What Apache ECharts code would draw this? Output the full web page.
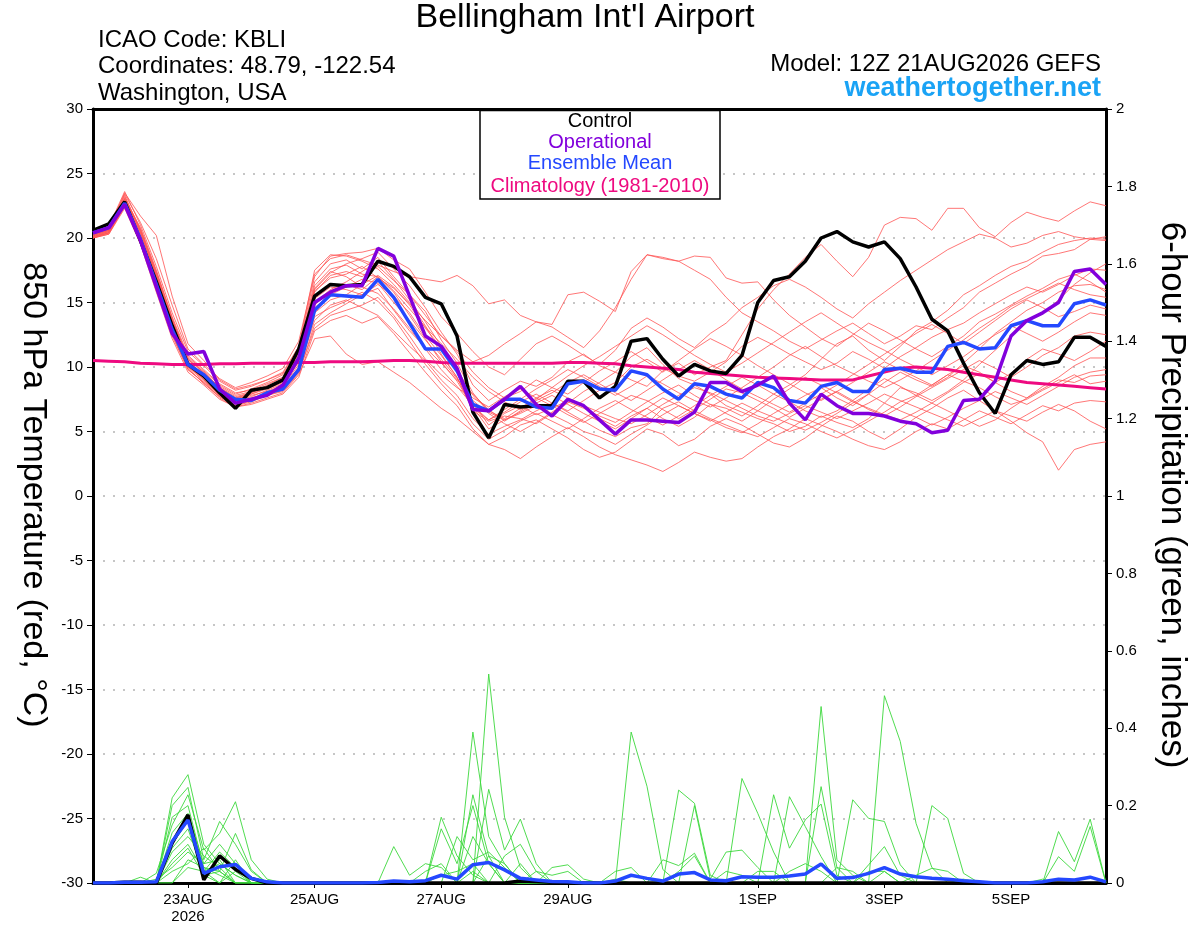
<!DOCTYPE html>
<html><head><meta charset="utf-8">
<script src="https://cdn.jsdelivr.net/npm/echarts@6/dist/echarts.min.js"></script>
<style>html,body{margin:0;padding:0;background:#fff}#c{width:1200px;height:927px}</style>
</head><body><div id="c"></div>
<script>
const FONT = '"Liberation Sans", Arial, Helvetica, sans-serif';

const times = ['21AUG 12Z','21AUG 18Z',
'22AUG 00Z','22AUG 06Z','22AUG 12Z','22AUG 18Z','23AUG 00Z','23AUG 06Z','23AUG 12Z','23AUG 18Z',
'24AUG 00Z','24AUG 06Z','24AUG 12Z','24AUG 18Z','25AUG 00Z','25AUG 06Z','25AUG 12Z','25AUG 18Z',
'26AUG 00Z','26AUG 06Z','26AUG 12Z','26AUG 18Z','27AUG 00Z','27AUG 06Z','27AUG 12Z','27AUG 18Z',
'28AUG 00Z','28AUG 06Z','28AUG 12Z','28AUG 18Z','29AUG 00Z','29AUG 06Z','29AUG 12Z','29AUG 18Z',
'30AUG 00Z','30AUG 06Z','30AUG 12Z','30AUG 18Z','31AUG 00Z','31AUG 06Z','31AUG 12Z','31AUG 18Z',
'1SEP 00Z','1SEP 06Z','1SEP 12Z','1SEP 18Z','2SEP 00Z','2SEP 06Z','2SEP 12Z','2SEP 18Z',
'3SEP 00Z','3SEP 06Z','3SEP 12Z','3SEP 18Z','4SEP 00Z','4SEP 06Z','4SEP 12Z','4SEP 18Z',
'5SEP 00Z','5SEP 06Z','5SEP 12Z','5SEP 18Z','6SEP 00Z','6SEP 06Z','6SEP 12Z'];

const tickIndex = [6, 14, 22, 30, 42, 50, 58];
const tickText  = ['23AUG\n2026', '25AUG', '27AUG', '29AUG', '1SEP', '3SEP', '5SEP'];

const tempTicks = { min: -30, max: 30, step: 5 };
const precipTicks = { min: 0, max: 2, step: 0.2 };

const controlTemp = [20.6,21.1,22.8,19.8,16.6,13.2,10.2,9.3,8.0,6.8,8.2,8.4,9.0,11.4,15.5,16.4,16.3,16.4,18.2,17.8,17.0,15.4,14.9,12.4,6.5,4.5,7.1,6.9,7.0,7.0,8.9,8.9,7.6,8.5,12.0,12.2,10.6,9.3,10.2,9.7,9.5,10.9,15.0,16.7,17.0,18.2,20.0,20.5,19.7,19.3,19.7,18.4,16.2,13.7,12.8,10.3,8.0,6.4,9.4,10.5,10.2,10.4,12.3,12.3,11.6];

const operationalTemp = [20.4,20.8,22.6,19.8,16.2,12.6,11.0,11.2,8.3,7.2,7.5,7.8,8.6,10.7,15.0,15.8,16.3,16.3,19.2,18.6,15.5,12.4,11.6,9.9,6.7,6.6,7.5,8.5,7.1,6.2,7.5,7.0,5.9,4.8,5.9,5.9,5.8,5.7,6.5,8.8,8.8,8.1,8.6,9.3,7.2,5.9,7.9,7.0,6.4,6.4,6.2,5.8,5.6,4.9,5.1,7.4,7.5,8.9,12.4,13.6,14.2,15.0,17.4,17.6,16.4];

const meanTemp = [20.4,20.8,22.7,19.9,16.4,12.9,10.2,9.4,8.2,7.5,7.4,8.0,8.3,9.8,14.4,15.6,15.5,15.4,16.8,15.4,13.4,11.4,11.4,9.7,7.1,6.6,7.5,7.5,6.9,6.8,8.7,8.9,8.3,8.2,9.7,9.4,8.3,7.5,8.7,8.5,7.9,7.6,8.8,8.4,7.4,7.2,8.5,8.8,8.1,8.1,9.8,9.9,9.6,9.6,11.6,11.9,11.4,11.5,13.2,13.6,13.2,13.2,14.9,15.2,14.8];

const climoTemp = [10.5,10.45,10.4,10.3,10.25,10.2,10.2,10.2,10.25,10.25,10.3,10.3,10.3,10.35,10.35,10.4,10.4,10.4,10.45,10.5,10.5,10.45,10.35,10.3,10.3,10.3,10.3,10.3,10.3,10.3,10.35,10.35,10.3,10.25,10.1,10.0,9.9,9.8,9.6,9.5,9.4,9.3,9.2,9.15,9.1,9.05,9.0,9.0,9.0,9.3,9.6,9.9,10.0,9.9,9.8,9.6,9.4,9.2,9.0,8.8,8.7,8.6,8.5,8.4,8.3];

const member01 = [20.3,20.7,23.5,21.7,20.2,15.5,11.8,10.5,9.0,8.3,8.6,9.0,9.5,11.5,17.0,18.6,18.8,18.9,19.2,18.3,17.6,15.8,13.9,12.6,11.2,10.0,9.4,10.6,11.8,12.4,11.7,10.9,10.2,11.3,13.0,13.8,13.1,12.2,11.5,12.6,13.4,14.6,15.4,16.3,16.8,16.2,15.4,14.5,13.8,14.9,15.8,16.7,17.5,18.3,19.1,19.7,20.3,20.0,19.3,19.6,20.2,20.5,20.1,19.9,19.8];
const member02 = [20.2,20.6,23.0,20.8,17.5,13.8,10.6,9.6,8.4,7.6,8.0,8.6,9.2,11.0,16.0,17.3,18.0,18.4,18.9,17.6,16.3,14.6,12.7,11.0,8.6,7.4,8.2,8.9,8.5,9.2,10.4,11.0,10.1,9.6,9.0,8.5,9.7,10.3,9.4,10.0,10.5,12.5,14.5,16.0,17.2,18.5,19.5,18.2,17.0,18.5,21.0,21.6,21.5,20.6,22.3,22.3,20.8,20.1,21.2,22.0,21.6,21.3,22.1,22.8,22.5];
const member03 = [20.0,20.3,22.5,19.8,16.2,12.4,9.8,8.8,7.6,6.9,7.2,7.6,8.0,9.4,12.2,12.4,11.0,10.2,10.4,9.6,8.8,7.8,6.8,6.0,5.0,4.0,4.6,5.5,5.9,5.2,4.5,3.6,3.0,3.4,4.3,5.2,4.8,3.9,4.4,5.4,6.0,5.5,4.8,4.1,3.8,4.5,5.4,6.2,5.8,5.0,4.4,5.2,6.1,6.8,7.6,8.2,7.4,6.6,5.8,4.9,4.2,2.0,3.6,4.0,4.2];
const member04 = [20.1,20.5,22.8,20.1,16.6,13.0,10.2,9.0,7.9,7.2,7.6,8.0,8.5,10.2,14.2,15.2,15.6,16.4,17.1,16.2,14.8,13.0,11.5,10.0,7.2,5.5,6.4,7.0,6.3,6.8,7.4,6.9,6.0,5.4,6.2,6.8,6.0,5.4,6.1,7.1,6.8,6.2,7.0,7.9,8.6,9.4,10.6,11.8,12.4,11.3,10.5,11.6,12.8,13.5,14.4,15.6,16.3,17.1,17.8,18.2,18.9,19.5,19.8,20.0,19.9];
const member05 = [20.3,20.8,23.3,20.6,17.2,13.5,10.4,9.4,8.5,7.8,8.1,8.4,8.9,10.8,15.3,16.2,16.0,15.6,16.4,15.5,14.2,12.4,10.9,9.2,6.6,5.8,6.2,6.0,5.6,6.4,7.2,8.1,8.8,9.6,10.8,11.5,10.2,9.1,8.6,7.9,7.0,6.5,6.0,5.6,5.0,5.4,6.2,5.7,5.3,6.0,7.2,8.4,8.0,7.4,8.1,9.0,10.2,11.3,12.4,13.6,14.1,15.2,16.4,17.3,18.0];
const member06 = [20.0,20.4,22.6,20.0,16.4,12.8,10.0,9.1,8.0,7.3,7.4,7.9,8.3,9.9,13.6,14.8,15.2,14.6,14.0,12.8,11.6,10.5,9.0,7.8,6.0,4.8,5.4,5.9,6.6,7.2,6.5,5.8,5.1,4.6,5.3,5.6,6.8,7.3,6.6,6.0,5.5,5.0,4.6,5.3,6.0,5.6,5.0,4.5,5.1,5.8,6.5,7.3,7.8,8.6,9.4,10.1,9.6,8.8,9.5,10.6,11.4,11.0,10.5,11.2,12.0];
const member07 = [20.2,20.7,23.1,20.5,17.0,13.6,10.8,9.7,8.6,7.9,8.3,8.8,9.4,11.2,16.6,18.0,18.3,17.6,18.5,17.0,15.6,14.0,12.4,11.3,10.4,10.9,11.8,12.6,13.5,13.1,12.3,11.5,12.8,14.6,16.8,18.7,18.4,18.2,17.5,16.8,15.4,14.2,13.5,12.8,12.0,11.4,12.1,12.8,13.4,12.6,11.8,12.4,13.2,12.9,13.8,14.6,15.8,16.5,17.2,17.8,18.6,18.8,19.1,19.9,20.1];
const member08 = [20.4,20.9,23.6,21.0,17.8,14.2,11.2,10.1,8.9,8.2,8.5,9.0,9.6,11.6,17.5,18.7,18.6,18.2,17.6,16.4,15.0,13.2,11.0,9.2,6.8,5.9,6.5,7.3,7.9,7.2,6.6,7.4,8.2,8.8,10.0,10.6,9.9,9.3,8.9,9.6,10.4,11.6,12.3,11.7,11.0,10.4,9.8,10.3,11.2,10.6,9.9,10.8,11.5,12.3,12.9,13.4,14.2,14.9,15.6,16.2,15.8,16.4,17.1,17.6,17.5];
const member09 = [20.1,20.4,22.4,19.6,16.0,12.5,9.9,8.7,7.7,7.0,7.3,7.8,8.2,9.6,13.0,14.0,14.4,14.8,15.4,14.0,12.4,10.6,9.4,8.4,7.6,6.9,7.7,8.3,7.6,7.0,6.3,5.7,6.4,7.1,7.8,7.4,6.7,6.0,6.7,7.5,8.3,8.0,7.4,6.8,6.1,6.8,7.5,8.1,7.4,6.7,6.2,6.9,7.7,8.4,9.1,9.8,10.5,9.9,9.2,10.0,10.9,11.5,12.4,12.7,12.5];
const member10 = [20.3,20.6,23.0,20.4,17.0,13.4,10.5,9.3,8.1,7.5,7.9,8.3,8.8,10.6,15.8,17.1,17.4,17.0,17.8,16.7,15.6,14.3,12.1,10.3,8.0,6.5,5.9,6.4,7.0,6.3,5.7,5.0,4.6,4.0,4.8,5.5,6.3,7.0,6.4,5.9,5.3,4.9,5.6,6.4,7.1,7.8,8.4,7.6,7.0,7.9,8.8,9.6,9.0,8.5,9.2,10.3,11.4,12.6,13.5,14.4,15.0,15.8,16.3,16.4,16.0];
const member11 = [20.2,20.5,22.7,20.2,16.8,13.1,10.1,9.0,7.8,7.1,7.5,7.9,8.4,10.0,14.6,15.6,16.2,16.8,16.5,15.0,13.6,12.1,10.6,9.1,7.4,6.4,5.6,5.0,5.7,6.5,7.3,6.8,6.2,5.7,6.5,7.3,8.0,8.6,7.8,7.1,6.4,5.8,6.6,7.5,8.3,9.2,8.6,8.0,7.3,6.8,6.3,5.9,6.5,7.2,8.0,8.8,9.5,8.8,8.1,7.6,8.3,9.0,8.8,9.3,9.4];
const member12 = [20.0,20.3,22.3,19.5,15.8,12.2,9.6,8.6,7.5,6.9,7.1,7.5,7.9,9.2,12.8,13.6,14.0,13.4,13.9,12.6,11.1,9.6,8.2,7.0,5.2,4.0,3.6,2.9,3.8,4.6,5.3,4.6,3.8,3.2,2.8,2.4,1.9,2.6,3.4,3.0,2.7,2.9,3.8,4.6,5.2,6.0,5.5,5.0,4.4,3.9,3.6,4.2,5.0,5.6,5.2,5.9,6.6,6.1,5.6,6.3,7.0,6.6,7.2,7.4,7.3];
const member13 = [20.2,20.6,22.9,20.4,17.1,13.5,10.6,9.5,8.3,7.6,7.9,8.4,8.9,10.7,15.9,16.9,17.2,17.8,16.9,16.1,14.9,13.6,12.4,11.2,9.6,8.4,7.6,8.1,9.0,8.4,7.9,8.8,9.7,10.4,11.2,10.4,9.6,10.5,11.4,12.2,11.6,10.9,10.1,9.4,8.7,8.0,7.4,8.1,8.8,9.6,10.4,9.8,9.2,8.6,9.4,8.9,8.4,7.7,7.1,7.5,8.2,8.8,9.4,8.7,8.9];
const member14 = [20.1,20.4,22.5,19.9,16.3,12.7,10.0,8.9,7.8,7.2,7.5,7.9,8.3,9.8,13.9,14.6,15.1,15.8,15.1,13.8,12.0,10.2,8.7,7.4,5.6,4.4,5.1,5.8,6.4,5.8,5.2,6.0,6.8,7.4,6.7,6.1,5.5,6.2,7.0,7.8,8.5,9.2,8.6,7.9,7.3,6.6,6.1,6.6,7.4,8.3,9.1,8.5,7.8,7.2,6.6,6.0,5.4,5.9,6.8,7.6,8.5,9.2,10.1,10.7,10.7];
const member15 = [20.3,20.8,23.4,21.2,18.4,14.8,11.4,10.2,9.1,8.4,8.8,9.3,9.9,12.0,17.2,18.4,18.7,18.3,17.9,17.4,17.0,16.8,16.6,17.1,16.3,14.9,15.2,14.0,13.5,13.3,15.6,15.8,15.1,14.3,17.4,18.7,18.5,18.2,18.6,18.5,16.9,16.5,16.6,15.2,14.0,13.1,12.2,11.6,12.5,13.4,12.8,12.1,11.4,10.8,11.6,12.4,13.5,14.1,14.8,15.5,16.1,16.8,17.2,16.6,15.8];
const member16 = [20.0,20.4,22.6,20.0,16.3,12.6,9.8,8.8,7.7,7.0,7.4,7.8,8.1,9.5,13.3,14.2,14.9,15.6,16.1,14.4,12.8,11.5,10.3,9.0,7.9,6.7,5.8,6.6,7.4,8.0,8.8,9.4,8.7,8.0,7.4,8.2,9.0,9.8,10.5,9.8,9.0,8.3,7.7,7.1,6.5,7.2,7.9,8.6,9.4,10.2,11.0,11.8,12.6,13.3,12.6,11.8,12.7,13.6,14.5,15.2,14.6,13.9,14.3,14.8,14.5];
const member17 = [20.4,20.7,23.2,20.7,17.4,13.9,10.9,9.8,8.7,8.0,8.2,8.7,9.2,11.1,16.3,17.6,17.9,17.2,17.0,15.9,14.5,13.1,11.8,10.6,9.2,8.1,7.3,6.7,7.5,8.4,9.3,10.1,10.8,11.6,12.4,13.2,12.5,11.7,10.9,10.2,9.6,10.3,11.1,11.9,12.7,13.5,14.2,13.4,12.6,11.9,11.3,10.6,10.0,9.4,10.1,10.8,11.7,12.5,13.2,12.6,12.0,12.7,13.5,14.2,14.0];
const member18 = [20.1,20.5,22.8,20.3,16.7,13.0,10.3,9.2,8.1,7.4,7.7,8.2,8.7,10.4,15.0,16.0,16.6,17.4,18.2,16.8,15.2,13.5,11.6,9.8,7.8,6.6,6.0,6.8,7.6,8.2,7.6,7.0,6.5,6.0,5.6,6.3,7.1,7.8,8.4,8.0,7.4,6.8,6.2,5.8,6.4,7.0,6.5,6.0,6.6,7.2,7.9,7.4,6.9,6.4,5.9,5.4,6.0,6.6,6.2,5.8,6.5,7.1,6.6,5.8,5.2];
const member19 = [20.2,20.6,23.0,20.6,17.3,13.7,10.7,9.6,8.4,7.7,8.0,8.5,9.0,10.9,16.1,17.4,17.0,16.2,15.7,14.5,13.0,11.4,9.8,8.5,7.0,5.9,6.7,7.5,8.3,9.0,9.8,9.2,8.5,7.8,8.5,9.3,8.7,8.0,7.4,6.9,7.6,8.4,9.2,10.0,10.9,11.6,10.8,10.1,9.5,8.9,8.4,9.0,9.7,10.5,11.3,12.1,13.0,13.8,14.7,15.3,15.9,16.5,16.0,15.6,15.4];
const member20 = [20.3,20.6,22.9,20.2,16.9,13.3,10.4,9.3,8.2,7.5,7.8,8.1,8.6,10.4,14.8,15.9,16.4,16.0,17.0,15.8,14.0,12.2,10.4,8.9,6.9,5.2,5.9,6.5,7.2,7.8,7.1,6.4,5.8,5.2,6.0,6.8,7.6,7.0,6.4,5.8,6.5,7.2,6.6,6.1,5.6,5.1,5.7,6.4,7.2,7.9,7.2,6.6,6.1,5.5,6.1,6.8,7.4,8.1,7.6,7.1,7.8,8.5,9.2,9.6,9.8];
const memberTemps = [member01,member02,member03,member04,member05,member06,member07,member08,member09,member10,
                     member11,member12,member13,member14,member15,member16,member17,member18,member19,member20];

// 6-hour precipitation (inches): mean and control
const meanPrecip = [0,0,0.002,0.002,0.003,0.107,0.163,0.025,0.042,0.048,0.012,0.003,0,0,0,0,0,0,0.001,0.005,0.003,0.006,0.02,0.01,0.047,0.053,0.034,0.012,0.008,0.004,0.003,0,0,0.005,0.02,0.012,0.005,0.023,0.027,0.008,0.006,0.016,0.015,0.015,0.018,0.023,0.049,0.012,0.014,0.025,0.04,0.023,0.016,0.012,0.01,0.006,0.003,0,0,0,0.003,0.01,0.008,0.015,0.003];
const controlPrecip = [0,0,0.002,0.002,0,0.103,0.176,0.008,0.07,0.035,0.012,0,0,0,0,0,0,0,0,0,0,0,0,0,0,0,0,0.005,0.004,0.002,0,0,0,0,0,0,0,0,0,0,0,0,0,0,0,0,0,0,0,0,0,0,0,0,0,0,0,0,0,0,0,0,0,0,0];

// member precipitation: [time index, inches]; all other times are 0
const pm01 = [[5,0.22],[6,0.28],[7,0.1],[8,0.05],[9,0.02],[22,0.17],[23,0.07],[24,0.02],[41,0.27],[42,0.18],[43,0.08],[50,0.03]];
const pm02 = [[5,0.2],[6,0.247],[7,0.06],[8,0.159],[9,0.1],[10,0.03],[24,0.39],[25,0.12],[26,0.05],[46,0.456],[47,0.06],[48,0.02]];
const pm03 = [[4,0.025],[5,0.15],[6,0.228],[7,0.085],[8,0.128],[9,0.21],[10,0.06],[11,0.01],[25,0.54],[26,0.17],[27,0.04],[50,0.484],[51,0.366],[52,0.154],[53,0.04]];
const pm04 = [[5,0.17],[6,0.2],[7,0.04],[8,0.03],[9,0.128],[10,0.034],[25,0.242],[26,0.085],[27,0.165],[28,0.05],[34,0.39],[35,0.25],[36,0.035]];
const pm05 = [[5,0.13],[6,0.18],[7,0.05],[8,0.1],[9,0.05],[24,0.228],[25,0.07],[37,0.24],[38,0.206],[39,0.02],[46,0.249],[47,0.04]];
const pm06 = [[3,0.015],[5,0.1],[6,0.16],[7,0.03],[8,0.08],[9,0.04],[22,0.14],[23,0.05],[24,0.2],[25,0.05],[38,0.2],[39,0.01],[40,0.08],[41,0.085],[42,0.04]];
const pm07 = [[5,0.09],[6,0.14],[7,0.02],[9,0.06],[19,0.094],[20,0.02],[21,0.05],[22,0.04],[43,0.228],[44,0.09],[45,0.163],[46,0.204],[47,0.02],[53,0.2],[54,0.167],[55,0.025]];
const pm08 = [[5,0.08],[6,0.12],[7,0.07],[8,0.04],[26,0.07],[27,0.1],[28,0.03],[44,0.223],[45,0.146],[46,0.068],[48,0.215],[49,0.167],[50,0.159],[51,0.047]];
const pm09 = [[5,0.06],[6,0.1],[7,0.03],[8,0.05],[9,0.02],[29,0.04],[30,0.047],[31,0.01],[49,0.047],[50,0.094],[51,0.02],[61,0.133],[62,0.055],[63,0.165]];
const pm10 = [[5,0.05],[6,0.09],[7,0.02],[8,0.03],[23,0.12],[24,0.06],[25,0.08],[26,0.04],[36,0.06],[37,0.045],[38,0.077],[61,0.068],[62,0.03],[63,0.146]];
const pm11 = [[4,0.01],[5,0.04],[6,0.08],[7,0.05],[8,0.06],[21,0.03],[22,0.05],[24,0.12],[25,0.05],[33,0.03],[34,0.04],[40,0.03],[41,0.02],[52,0.02],[53,0.038],[54,0.03]];
const pm12 = [[6,0.06],[7,0.04],[8,0.02],[25,0.07],[26,0.05],[28,0.03],[29,0.02],[30,0.03],[37,0.03],[38,0.07],[44,0.03],[45,0.05],[46,0.03],[49,0.03],[50,0.03]];
const pm13 = [[5,0.03],[6,0.05],[7,0.09],[8,0.03],[24,0.03],[27,0.05],[34,0.02],[35,0.01],[42,0.03],[43,0.03],[55,0.01],[60,0.01]];
const pm14 = [[6,0.04],[7,0.03],[9,0.03],[22,0.02],[23,0.03],[24,0.05],[33,0.01],[47,0.04],[48,0.03],[56,0.003]];
const memberPrecip = [pm01,pm02,pm03,pm04,pm05,pm06,pm07,pm08,pm09,pm10,pm11,pm12,pm13,pm14];

function expand(pairs) {
  const arr = times.map(() => 0);
  pairs.forEach(([i, v]) => { arr[i] = v; });
  return arr;
}

const COL = { control: '#000000', oper: '#8200dc', mean: '#2448ff', climo: '#ee0a80', red: '#ff5555', green: '#3cd83c' };

const series = [];
memberTemps.forEach((d, k) => series.push({
  name: 'tm' + k, type: 'line', data: d, xAxisIndex: 0, yAxisIndex: 0,
  showSymbol: false, symbol: 'none', silent: true,
  lineStyle: { color: COL.red, width: 0.9, opacity: 0.9 }, z: 2
}));
memberPrecip.forEach((p, k) => series.push({
  name: 'pm' + k, type: 'line', data: expand(p), xAxisIndex: 0, yAxisIndex: 1,
  showSymbol: false, symbol: 'none', silent: true,
  lineStyle: { color: COL.green, width: 0.9 }, z: 2
}));
series.push({ name: 'Climatology', type: 'line', data: climoTemp, yAxisIndex: 0, symbol: 'none', silent: true,
  lineStyle: { color: COL.climo, width: 3 }, z: 4 });
series.push({ name: 'ControlP', type: 'line', data: controlPrecip, yAxisIndex: 1, symbol: 'none', silent: true,
  lineStyle: { color: COL.control, width: 3.5 }, z: 4 });
series.push({ name: 'MeanP', type: 'line', data: meanPrecip, yAxisIndex: 1, symbol: 'none', silent: true,
  lineStyle: { color: COL.mean, width: 3.5 }, z: 5 });
series.push({ name: 'Control', type: 'line', data: controlTemp, yAxisIndex: 0, symbol: 'none', silent: true,
  lineStyle: { color: COL.control, width: 3.5 }, z: 5 });
series.push({ name: 'Mean', type: 'line', data: meanTemp, yAxisIndex: 0, symbol: 'none', silent: true,
  lineStyle: { color: COL.mean, width: 3.5 }, z: 6 });
series.push({ name: 'Operational', type: 'line', data: operationalTemp, yAxisIndex: 0, symbol: 'none', silent: true,
  lineStyle: { color: COL.oper, width: 3.5 }, z: 7 });

function txt(text, x, y, size, color, align, extra, weight) {
  return Object.assign({
    type: 'text', x: x, y: y, silent: true, z: 100,
    style: { text: text, fill: color, font: (weight ? weight + ' ' : '') + size + 'px ' + FONT,
      align: align, textAlign: align, verticalAlign: 'middle', textVerticalAlign: 'middle' }
  }, extra || {});
}

const chart = echarts.init(document.getElementById('c'), null, { renderer: 'canvas' });
chart.setOption({
  animation: false,
  backgroundColor: '#ffffff',
  grid: { left: 93, right: 94, top: 109, bottom: 44, containLabel: false },
  xAxis: [{
    type: 'category', data: times, boundaryGap: false, position: 'bottom',
    axisLine: { onZero: false, lineStyle: { color: '#000', width: 3 } },
    axisTick: { show: true, length: 5, interval: (i) => tickIndex.includes(i), lineStyle: { color: '#000', width: 1 } },
    axisLabel: { interval: (i) => tickIndex.includes(i), color: '#000', fontSize: 15, fontFamily: FONT, margin: 8, lineHeight: 17,
      formatter: (v, i) => { const k = tickIndex.indexOf(i); return k >= 0 ? tickText[k] : ''; } },
    splitLine: { show: false }
  }, {
    type: 'category', data: times, boundaryGap: false, position: 'top',
    axisLine: { onZero: false, lineStyle: { color: '#000', width: 3 } },
    axisTick: { show: false }, axisLabel: { show: false }, splitLine: { show: false }
  }],
  yAxis: [{
    type: 'value', min: tempTicks.min, max: tempTicks.max, interval: tempTicks.step, position: 'left',
    axisLine: { show: true, lineStyle: { color: '#000', width: 3 } },
    axisTick: { show: true, length: 6, lineStyle: { color: '#000', width: 1 } },
    axisLabel: { color: '#000', fontSize: 15, fontFamily: FONT, margin: 10 },
    splitLine: { show: true, lineStyle: { color: '#b4b4b4', width: 1.6, type: [2, 8] } }
  }, {
    type: 'value', min: precipTicks.min, max: precipTicks.max, interval: precipTicks.step, position: 'right',
    axisLine: { show: true, lineStyle: { color: '#000', width: 3 } },
    axisTick: { show: true, length: 6, lineStyle: { color: '#000', width: 1 } },
    axisLabel: { color: '#000', fontSize: 15, fontFamily: FONT, margin: 10,
      formatter: (v) => String(Math.round(v * 10) / 10) },
    splitLine: { show: false }
  }],
  series: series,
  graphic: [
    txt("Bellingham Int'l Airport", 585, 18, 34, '#000', 'center'),
    txt('ICAO Code: KBLI', 98, 40, 24, '#000', 'left'),
    txt('Coordinates: 48.79, -122.54', 98, 66, 24, '#000', 'left'),
    txt('Washington, USA', 98, 93, 24, '#000', 'left'),
    txt('Model: 12Z 21AUG2026 GEFS', 1101, 64, 24, '#000', 'right'),
    txt('weathertogether.net', 1101, 89, 27, '#1aa3f5', 'right', null, 'bold'),
    { type: 'rect', shape: { x: 480, y: 110.5, width: 240, height: 88.5 }, silent: true, z: 90,
      style: { fill: '#ffffff', stroke: '#000', lineWidth: 1.5 } },
    txt('Control', 600, 121, 20, COL.control, 'center'),
    txt('Operational', 600, 142, 20, COL.oper, 'center'),
    txt('Ensemble Mean', 600, 163, 20, COL.mean, 'center'),
    txt('Climatology (1981-2010)', 600, 186, 20, COL.climo, 'center'),
    txt('850 hPa Temperature (red, °C)', 33, 495, 34, '#000', 'center', { rotation: -Math.PI / 2 }),
    txt('6-hour Precipitation (green, inches)', 1172, 495, 35, '#000', 'center', { rotation: -Math.PI / 2 })
  ]
});
</script>
</body></html>
